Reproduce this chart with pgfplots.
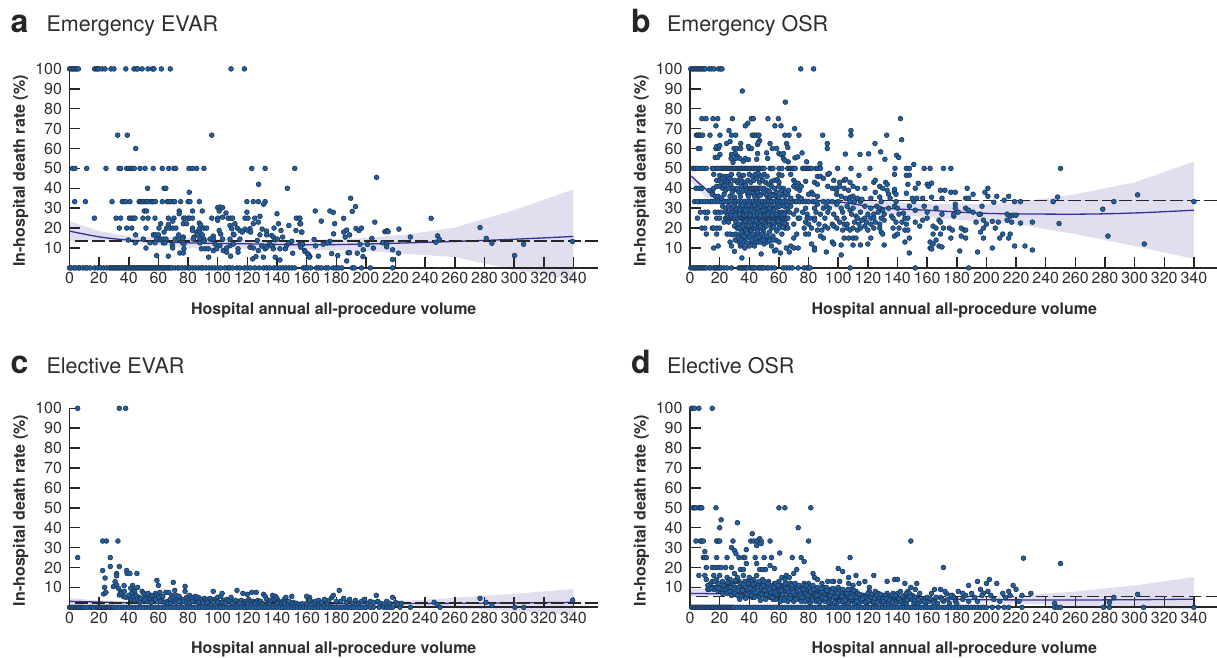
\documentclass[border=0pt]{standalone}
\usepackage{fontspec}
\setmainfont{TeX Gyre Heros}
\usepackage{pgfplots}
\pgfplotsset{compat=1.18}
\definecolor{dotf}{HTML}{1C62A8}
\definecolor{dotd}{HTML}{23324A}
\definecolor{bandc}{HTML}{E0DEEF}
\definecolor{linec}{HTML}{34319A}
\definecolor{axc}{HTML}{262626}
\definecolor{txt}{HTML}{2E2E2E}
\pgfplotsset{
 every axis title shift=0pt,
 base/.style={scale only axis,width=528.5pt,height=199pt,xmin=0,xmax=356.6,ymin=0,ymax=100,clip=false},
 tickbase/.style={base,
  axis x line*=bottom,axis y line*=left,axis line style={-,line width=1.7pt,color=axc},
  hide obscured x ticks=false,hide obscured y ticks=false,
  xtick={0,20,...,340},ytick={10,20,...,100},xtick align=inside,ytick align=inside,
  major tick length=10.5pt,tick style={line width=1.5pt,color=axc}},
 tickonly/.style={tickbase,xticklabels={},yticklabels={}},
 panel/.style={tickbase,
  /pgf/number format/assume math mode=true,/pgf/number format/1000 sep={},
  tick label style={font=\fontsize{16}{18}\selectfont,color=txt},
  xticklabel style={yshift=-1pt},
  yticklabel style={xshift=-4pt},
  xlabel={Hospital annual all-procedure volume},
  ylabel={In-hospital death rate (\%)},
  every axis x label/.style={at={(axis description cs:0.5,0)},anchor=base,yshift=-46.5pt,font=\fontsize{16}{18}\selectfont\bfseries,color=txt},
  every axis y label/.style={at={(axis description cs:0,0.5)},rotate=90,anchor=base,yshift=44.5pt,xshift=-2.6pt,font=\fontsize{16}{18}\selectfont\bfseries,color=txt},
  title style={at={(axis description cs:0,1)},anchor=base west,xshift=-26.5pt,yshift=37.2pt,font=\fontsize{21.5}{24}\selectfont,color=txt},
 },
 lower/.style={title style={yshift=-2pt}},
 band/.style={fill=bandc,draw=none,forget plot},
 fit/.style={color=linec,line width=1.3pt,no marks,smooth,forget plot},
 ref/.style={color=axc,line width=1.3pt,dash pattern=on 12.5pt off 4.5pt,no marks,forget plot},
 dots/.style={only marks,mark=*,mark size=2.4pt,mark options={fill=dotf,draw=dotd,line width=0.6pt},forget plot},
}
\newcommand{\plab}[2][0pt]{\node[anchor=base west,xshift=-62.5pt,yshift=36pt+#1,font=\fontsize{32}{34}\selectfont\bfseries,color=black!85] at (rel axis cs:0,1) {#2};}
\begin{document}
\begin{tikzpicture}
\useasboundingbox (0,0) rectangle (1217pt,657pt);
% ---------- a
\begin{axis}[base,hide axis,at={(69.5pt,389.1pt)}]
\addplot[band] coordinates {(0,23.4)(20,18.5)(40,15.8)(80,15.1)(120,14)(160,14)(200,15)(230,17)(260,20.3)(300,29)(340,39.5)(340,-6)(300,-1)(260,5.4)(200,8.4)(160,9.2)(120,9.6)(80,10)(40,12.9)(20,14)(0,13.4)};
\end{axis}
\begin{axis}[tickonly,at={(69.5pt,389.1pt)}]
\addplot[draw=none,forget plot] coordinates {(100,50)};
\end{axis}
\begin{axis}[panel,at={(69.5pt,389.1pt)},title={Emergency EVAR}]
\plab{a}
\addplot[fit] coordinates {(0,18.5)(20,15.6)(40,14)(80,12.6)(120,12.1)(160,11.6)(200,12)(260,13.3)(300,14.4)(340,15.8)};
\addplot[ref] coordinates {(4,13.5)(356.6,13.5)};
\addplot[dots] coordinates {
(0,100)(1,100)(2,100)(3,100)(4,100)(5,100)(6,100)(17,100)(18,100)(19,100)(20,100)(22,100)(24,100)(28,100)(30,100)(38,100)(43.5,100)(45,100)(46,100)(49,100)(53,100)(56,100)(57,100)(62,100)(68,100)(109,100)(118,100)
(32.5,66.7)(39,66.7)(96,66.7)(44.7,60)
(2,50)(3.7,50)(11.6,50)(24.6,50)(33.4,50)(34.5,50)(38.6,50)(40,50)(41.3,50)(42.5,50)(43.7,50)(47.6,50)(51,50)(56.5,50)(62.6,50)(67,50)(70.5,50)(71.6,50)(80.6,50)(83,50)(85.8,50)(90.7,50)(123,50)(132,50)(152,50)
(52.7,40)(63.8,40)(65,40)(147,40)(80.8,38)(127.6,42)
(3.5,33.3)(10.7,33.3)(28.7,33.3)(35.6,33.3)(36.8,33.3)(38,33.3)(40.8,33.3)(47,33.3)(48,33.3)(49,33.3)(50,33.3)(51,33.3)(52,33.3)(53,33.3)(55,33.3)(56,33.3)(57,33.3)(58,33.3)(62.6,33.3)(66,33.3)(67,33.3)(68,33.3)(70,33.3)(71,33.3)(75,33.3)(80,33.3)(81.3,33.3)(87.6,33.3)(119.7,33.3)(124,33.3)(127.4,33.3)(132,33.3)(131,32)
(16.8,25)(31.4,25)(34.5,25)(40.4,25)(41.7,25)(43,25)(44.2,25)(49.6,25)(53,25)(57.7,25)(66.7,25)(70.5,25)(77,25)(78,25)(80,25)(81,25)(83,25)(96,25)(100,25)(107,25)(108.7,25)(110,25)(118.4,25)(120.4,25)(125,25)(128.5,25.9)(153,25)(155,25)
(50.5,28.6)(52,28.6)(74,28.6)(74,27.2)(83,28.6)(89.6,28.6)(119.7,28)(140,27.2)(100,30.3)(101.5,30.6)(103.3,30.3)(101,28.6)(105.6,27.6)(100,23.9)(103.3,25.5)(111.6,22.2)(108.3,21.3)(113.2,20)(109.4,19.7)(101,18.8)
(61.5,22.2)(69.6,23.5)(66.7,21.8)(76.8,22.2)(79,22.2)(87.6,22.5)(88.5,21.5)(124,22.2)(127.4,23)(141,22.2)(148,21.3)(155.5,22.2)
(33.6,20)(38.6,20)(42,20)(51.6,20)(60.4,20)(65.6,20)(67.8,20)(69.6,20)(71.8,20)(83,20)(90.7,20)(92.5,20)(138,20)(121.8,19.7)(118.4,19.5)(130,19.5)
(63.8,18)(83,18.8)(85.8,18)(87.6,19.7)(88,18)(110.5,17)(115,18.8)(116.6,18)(120.4,18.8)(122.2,18)(142.7,18.8)(152.8,18.8)(156.6,18)(133,18.5)
(44.6,16.6)(56.6,16.6)(58,16.6)(60,16.6)(73.6,16.6)(76.8,15.5)(86.2,16.6)(89.6,16.6)(111,16.6)(128.5,16.6)(133,16.6)(136.4,16.3)(137.5,15.5)(143.8,15.5)(102,17)(97,16)(84,15.5)
(39.7,14)(49.8,14.5)(58.8,14.5)(61.5,14.5)(63.3,14.5)(65.1,14.5)(71.4,14.5)(73.6,14.5)(76.3,14.5)(83.5,14.5)(88,14.5)(90.7,14.5)(94.8,14.5)(97,14.5)(103.3,14.5)(108.3,14.5)(115,14.5)(126.7,13.8)(138.8,14.1)(140.2,14.5)(150,13.4)
(44.4,12.6)(54.3,12.6)(57.7,12.6)(63.3,12.6)(64.4,12.6)(69.4,11.6)(69.6,10)(76.3,12.6)(77.2,12)(88,12.6)(90.7,13.4)(98.2,12)(101.5,11.2)(108.3,11.2)(110.5,12)(106,10)(113.7,9.6)(113.7,7.9)(135,12)(137,11)
(51.6,10)(89,9.6)(91.4,9.6)(93.6,9.6)(97,8.7)(99.3,9.6)(103.7,8.7)(106,7.9)(108.7,5.9)(93.9,5.4)(74.5,7.5)(76.8,7.5)(77.2,9.6)(58.8,6.2)(66.7,5.9)(123.6,4.5)(125.8,5.7)(127.4,8.7)(130.8,5.4)(129.7,11)(132,9.6)(133,10.4)(121.8,10.4)(124,10)(136.4,11)(137.5,9.6)(138.8,5.4)(142,4)(142,9.6)(145.6,9.6)(146.5,11.3)(147.7,12.4)(150.6,7.4)(155.5,12)(157.3,11.8)(158.6,8.7)(161,7)(162.2,5.7)
(207.2,45.5)(189.7,35)(193,30.8)(190.8,28.4)(165.8,28.6)(175.7,28.6)(178,27.9)(169.9,23.5)(185,24.9)(178.9,22.2)(206,23)(244,24.9)(277,20.3)(156,22.2)(155.5,24.9)(156.8,18)(185,18)(187,19)(178.2,17.1)(186,15.5)(189,16.6)(193.3,19.8)(195.3,18.8)(197,20)(212.8,18.2)(214.2,18.7)(215,18.2)(222.3,19.5)(230,15.5)(248.4,16.1)(249.5,14.3)(247.2,12.9)(281.2,14.8)(285,12.4)(306.4,11.9)(339.4,13.3)(300.3,6.2)(165,14.3)(175.7,13.4)(174,12.6)(171.2,11.9)(166,11.1)(204,14.8)(201,11.8)(196,11.8)(205,10)(211.3,12.6)(214.2,12.3)(214,10.6)(157,12)(156,10.4)(159,8.2)(160.7,6.9)(161.8,5.4)(167.9,5.9)(176.9,7.2)(181,6.2)(187.9,7.6)(189,7.6)(194.2,7.4)(198.2,9.1)(198,5.7)(187,3.5)(218,9.1)(222,7.4)(218,4.2)
(0,0)(1,0)(3,0)(4,0)(6,0)(7,0)(9,0)(11,0)(12,0)(14,0)(17,0)(19,0)(21,0)(23,0)(25,0)(27,0)(28,0)(29,0)(30,0)(31,0)(32,0)(33,0)(34,0)(35,0)(36,0)(37,0)(38,0)(39,0)(40,0)(41,0)(42,0)(43,0)(44,0)(45,0)(46,0)(47,0)(48,0)(49,0)(50,0)(51,0)(52,0)(53,0)(54,0)(55,0)(56,0)(57,0)(58,0)(59,0)(60,0)(61,0)(62,0)(63,0)(64,0)(65,0)(66,0)(67,0)(68,0)(69,0)(71,0)(73,0)(74,0)(76,0)(78,0)(80,0)(81,0)(83,0)(85,0)(87,0)(89,0)(90,0)(92,0)(94,0)(96,0)(98,0)(100,0)(102,0)(105,0)(107,0)(108,0)(110,0)(113,0)(115,0)(118,0)(120,0)(122,0)(125,0)(128,0)(131,0)(133,0)(135,0)(138,0)(140,0)(142,0)(144,0)(146,0)(148,0)(150,0)(152,0)
(157.7,0)(159,0)(160.5,0)(162.7,0)(166.7,0)(168,0)(170,0)(173,0)(174.6,0)(178,0)(179.8,0)(181.4,0)(183.8,0)(190.8,0)(192.2,0)(197,0)(203,0)(218,0)
};
\end{axis}
% ---------- b
\begin{axis}[base,hide axis,at={(690pt,389.1pt)}]
\addplot[band] coordinates {(0,47.5)(10,41)(20,36)(40,35)(80,35.6)(120,34)(160,32)(200,32)(220,33)(260,37)(300,43)(340,53.4)(340,4.5)(300,11)(260,17)(220,22)(200,23)(160,25.5)(120,28)(80,32)(40,32)(20,32)(10,36)(0,44)};
\end{axis}
\begin{axis}[tickonly,at={(690pt,389.1pt)}]
\addplot[draw=none,forget plot] coordinates {(100,50)};
\end{axis}
\begin{axis}[panel,at={(690pt,389.1pt)},title={Emergency OSR}]
\plab{b}
\addplot[fit] coordinates {(1,46)(10,40)(20,34.8)(40,33.6)(60,33.8)(80,33.8)(100,33.2)(120,31)(140,29.6)(160,29)(200,27.4)(260,27)(300,27.6)(340,29)};
\addplot[ref] coordinates {(3,34)(356.6,34)};
\addplot[dots] coordinates {
(0.5,100)(1.5,100)(2.5,100)(3.5,100)(4.5,100)(5.5,100)(6.5,100)(7.5,100)(8.5,100)(9.5,100)(10.5,100)(13,100)(14.6,100)(16.2,100)(19.3,100)(20.7,100)(21.6,100)(74.7,100)(83.4,100)
(35.3,88.9)(64.3,83.3)(8,75)(10.8,75)(15.5,75)(18.7,75)(28.6,75)(41.4,75)(42.7,75)(52.6,75)(59.6,75)(142,75)
(17.5,71.4)(37.3,71.4)(39,72.7)(57.3,71.4)(61.4,71.4)(70.6,70)(26.3,69)(108.6,69)
(4.3,66.7)(5.3,66.7)(6.3,66.7)(7.2,66.7)(8.5,66.7)(13.5,66.7)(20.2,66.7)(28,66.7)(30.8,66.7)(42,66.7)(43.4,66.7)(45,66.7)(46.5,66.7)(64,66.7)(66.8,66.7)(73.5,66.7)(89.5,66.7)(108.6,66.7)(132.7,66.7)(142.8,64.4)
(24.7,62.5)(34.2,62.5)(45.7,62)(92.6,62.5)(124.8,62.5)(54,62.5)(65.2,62.5)(27,63.5)(47,64)(46,63)
(5.6,60)(6.7,60)(17.5,60)(19,60)(29.7,60)(31.5,60)(34.2,60)(40,60)(41.4,60)(55.5,60)(58.5,60)(92.6,60)(39.4,61)(18,61)(20,61.5)(66,60.5)
(20.2,57)(45.6,57.5)(51.7,57.8)(60,57.5)(61.4,57)(63,57.5)(104.8,57.2)(114.7,57)(120.5,57.3)(139.4,56.6)(28,57)(30.5,57.5)(32,56)
(17,55.5)(18.7,55.5)(27.7,55)(30.8,55)(33.7,55)(37.3,55)(45,54.6)(52.4,55)(70.8,55.3)(72.7,55.8)(75.6,57.8)(140.8,55.5)(131.5,54.6)(128.6,58.3)(78.7,53.3)(87.7,52.4)(36,53.6)(39.4,54.4)(66.3,53.3)(63,55)(64,54)(29,53)
(2,50)(3,50)(4,50)(5,50)(7,50)(9,50)(11,50)(15,50)(16,50)(18,50)(19,50)(21,50)(22,50)(23,50)(24,50)(25,50)(26,50)(27,50)(28,50)(29,50)(30,50)(31,50)(32,50)(33,50)(34,50)(35,50)(36,50)(37,50)(38,50)(39,50)(40,50)(41,50)(42,50)(43,50)(44,50)(45,50)(46,50)(47,50)(48,50)(49,50)(50,50)(54,50)(55,50)(56,50)(60,50)(62,50)(66,50)(67,50)(68,50)(69,50)(70,50)(71,50)(76,50)(77,50)(78,50)(79,50)(80,50)(81,50)(82,50)(85,50)(86,50)(88,50)(99.6,50)(108.6,50)(121.4,50)(138.3,50)(146,50)(148,50)(158,50)(162,50)(171,50)(176,50)(250,50)
(16,47)(20,46.5)(22,46)(24,46)(26,46)(28,47)(33,47)(36,46.5)(40,47)(42,46)(44,47)(46,47.5)(48,46)(50,47)(52,46)(60,47)(62,46.5)(68,47)(86,46)(88,46)(93,47)(94,47.5)(114,46.5)(138,47)(146,46.5)(148,46.6)(151,52)
(18,44)(20,44)(21,43)(22,45)(24,44)(25,43)(26,44)(27,45)(30,44)(32,43)(33,44)(34,45)(35,43.5)(37,43)(39,44)(41,43)(43,44)(45,45)(47,43)(49,44)(51,43)(53,42)(55,43.5)(57,44)(59,44.5)(60,43)(70,44)(71,43)(73,42.5)(78,43.5)(84,43)(90,45)(97,44)(101,43)(104,44)(108,43)(105,44.5)(124,43)(125,44)(132,43)(147,42)(154,42.5)(163,42.6)
(13,39)(15,38)(16,40)(18,41)(20,41)(22,40)(24,39)(26,40)(29,40)(31,39.5)(32,40)(33,38)(36,40)(38,39)(40,40)(41,40)(42,40)(43,40)(44,40)(45,40)(46,40)(47,40)(48,40)(50,40)(52,39)(55,41)(57,40)(60,41)(63,40)(70,41)(72,40)(74,39)(75,41)(82,38)(86,42)(93,41)(96,40)(98,40)(99,39)(101,41)(104,40)(107,39)(110,41)(113,40)(118,40)(125,38)(128,41)(130,40)(133,42)(133,39)(138,38)(138,39.5)(152,40)(160,42)(161,41)(169,39)(172,39)(176,38)(179,38)(187,40)(191,37)(199,38)(201,40)(4,40)(6,40)(8,40)
(6,33.3)(3,33.3)(5,33.3)(8,33.3)(10,33.3)(12,33.3)(14,33.3)(15,33.3)(17,33.3)(19,33.3)(21,33.3)(23,33.3)(25,33.3)(27,33.3)(29,33.3)(31,33.3)(33,33.3)(35,33.3)(37,33.3)(39,33.3)(41,33.3)(43,33.3)(45,33.3)(47,33.3)(49,33.3)(51,33.3)(53,33.3)(55,33.3)(57,33.3)(59,33.3)(61,33.3)(63,33.3)(65,33.3)(67,33.3)(69,33.3)(71,33.3)(72,33.3)(74,33.3)(76,33.3)(78,33.3)(80,33.3)(83,33.3)(85,33.3)(90,33.3)(93,33.3)(96,33.3)(100,33.3)(108,33.3)(111,33.3)(115,33.3)(129,33.3)(139,33.3)(151,33.3)
(15,37)(17,36)(19,36)(21,35)(23,37)(27,36)(30,35.5)(34,36)(39,37)(44,37)(46,36)(48,37)(52,36)(54,35.5)(56,37)(58,36)(60,35.5)(62,37)(64,36)(66,37)(68,35)(73,36)(75,35)(80,37)(83,37)(86,36)(99,37)(102,36)(105,35)(108,35.5)(110,36)(113,35)(116,34.5)(122,35)(128,35.6)(134,37)(135,35)(139,37)(146,37.5)(150,35)(153,35)(157,35)(163,35.5)(170,35)(179,32)(186,35)(188,35)(197,31)(201,36)(205,33)(207,36)(212,34)(215,36)(219,33.3)(223,33.3)(245,33.3)(248,35.6)(286,33.3)(302,36.7)(340,33.3)
(22,31)(24,30)(26,31)(28,30)(30,32)(32,30)(34,31)(36,30)(38,31)(40,30)(42,31)(44,30)(46,32)(48,30)(50,31)(52,29.5)(55,31)(57,30)(59,32)(66,30)(68,31)(72,29)(78,30)(84,30)(86,32)(90,30)(92,31)(94,30)(99,32)(102,30)(106,31)(108,29)(110,30)(118,31)(122,30)(126,31)(128,30)(130,29)(134,30)(138,31)(140,30)(148,31)(152,29)(158,31)(166,30)(179,30)(186,30)(178,26)(196,27)(7,28)(10,28)(12,28)(17,28)(19,28)(21,28)(24,28)(26,28)(29,28)(31,28)(35,28)(37,28)(41,28)(45,28)(47,28)(50,28)(54,28)(60,28)(62,28)(64,28)(67,28)(70,27)(76,28)(79,27)(85,28)(88,27)(93,28)(97,27)(103,28)(109,27)(112,26)(115,28)(120,27)(124,27)(127,28)(131,27)(136,26)(141,27)(144,27.5)(160,28)(170,27)(178,27)(181,28)(188,29)(191,28)(195,27)(214,27)(216,26)(218,26.5)(220,26.5)(278.5,29.5)
(5,25)(11,25)(18,25)(20,25)(24,25)(25,25)(26,25)(27,25)(28,25)(29,25)(30,25)(32,25)(34,25)(35,25)(36,25)(37,25)(38,25)(39,25)(40,25)(41,25)(42,25)(43,25)(44,25)(45,25)(46,25)(47,25)(48,25)(49,25)(50,25)(51,25)(52,25)(53,25)(54,25)(55,25)(56,25)(57,25)(58,25)(59,25)(60,25)(61,25)(62,25)(63,25)(64,25)(65,25)(66,25)(73,25)(74,25)(79,25)(81,25)(84,25)(91,25)(99,25)(104,25)(113,25)(118,25)(122,25)(124,25)(129,25)(137,25)(145,25)(147,25)(160,25)
(23,23)(26,23)(31,23)(33,22)(36,23)(39,22)(42,23)(44,22)(47,23)(49,22)(52,23)(55,22)(58,23)(60,22)(62,23)(65,22)(70,22)(78,23)(80,22)(84,24)(87,22)(96,22)(101,23)(104,22)(106,22)(111,23)(114,22)(116,24)(119,23)(122,22)(125,23)(128,22)(131,24)(139,23)(143,23)(146,22)(152,23)(157,24)(168,24)(169,23)(193,23)(198,24)(214,24)(217,23)(223,22.5)(249,22.3)(204,23.4)(200,22)(208,23)
(8,20)(10,20)(15,20)(16,20)(18,20)(20,20)(30,21)(32,20)(33,20)(36,20)(38,20)(40,20)(41,20)(42,20)(43,20)(44,20)(46,20)(48,20)(50,20)(55,20)(60,20)(64,20)(66,20)(77,20)(82,20)(86,19)(89,19)(91,21)(93,20)(97,21)(99,20)(103,19)(106,20)(108,19)(110,20)(113,19)(115,20)(118,21)(120,19)(124,20)(128,20)(129,18)(137,20)(141,20)(145,19)(147,19)(155,21)(164,21)(166,20)(171,20)(175,20)(177,19)(183,20)(185,19)(186,19)(196,18)(198,20)(206,20)(211,17)(216,17)(231,23)
(11,17)(18,17)(25,17)(27,17)(29,16.7)(31,17)(33,16)(35,15)(37,17)(38,15)(40,18)(44,16)(46,17)(48,15)(50,14)(52,15)(54,15)(56,16)(58,14)(60,13)(62,17)(70,15)(72,17)(78,17)(80,17)(88,16)(90,15)(104,15)(107,15)(110,15)(112,15)(122,15)(130,17)(138,16)(140,17)(148,15)(164,17)(166,14)(169,17)(176,15)(183,16)(186,15)(198,15)(209,15)(215,15)(282,16)
(16,10)(19,11)(27,13)(28,11)(30,8.3)(33,13)(34,11)(35,12)(37,10)(40,11)(42,13)(44,13)(46,13)(48,7)(50,12)(52,13)(55,11)(57,8.5)(58,9)(61,7.5)(65,10)(67,8)(68,11)(70,10)(73,10)(82,12)(84,10)(84,9)(92,8)(96,13)(97,12)(102,6.5)(102,11.5)(110,11.5)(115,11.5)(120,12)(131,11.5)(145,13)(148,7.5)(162,13)(162,10)(163,9.5)(168,11)(170,10.5)(182,8.5)(194,8)(204,10)(219,11)(226,11)(231,9)(306.5,12)(35,5)(164,12)
(23.5,41.5)(27.5,42)(28.5,38)(34.5,41)(35.5,38.5)(37.5,41.5)(39.5,36)(40.5,38)(42.5,37.5)(43.5,36)(45.5,38)(47.5,36.5)(49.5,38)(51.5,37)(53.5,38.5)(55.5,36.5)(58.5,38)(61.5,39)(64.5,38)(66.5,39)(29.5,31)(31.5,29.5)(33.5,29)(35.5,31.5)(37.5,29)(39.5,31.5)(41.5,29)(43.5,31.5)(45.5,30)(47.5,31)(49.5,29)(51.5,31.5)(53.5,30)(56.5,29)(58.5,30.5)(60.5,31)(63.5,31)(65.5,31.5)(25.5,26.5)(27.5,26.5)(30.5,26.5)(33.5,27)(36.5,26.5)(38.5,27)(40.5,26.5)(43.5,26.5)(45.5,27)(47.5,26.5)(50.5,26.5)(52.5,27)(55.5,26.5)(58.5,27)(61.5,26.5)(63.5,27)(37.5,23.5)(40.5,23)(42.5,24)(44.5,23.5)(46.5,22)(48.5,23.5)(50.5,22)(53.5,23.5)(56.5,22)(59.5,23.5)(63.5,22.5)(35.5,21)(37.5,19)(39.5,21)(41.5,18.5)(43.5,21.5)(45.5,18.5)(47.5,21)(49.5,18)(51.5,21)(53.5,18)(56.5,20.5)(58.5,18.5)(62.5,20.5)(34.5,18)(36.5,16)(38.5,17.5)(40.5,15.5)(42.5,17)(44.5,15)(46.5,15.5)(48.5,17)(51.5,16)(53.5,13.5)(56,14)(30.5,14)(32.5,15)(34.5,14)(36.5,13)(38.5,12.5)(41.5,14)(43.5,11)(47.5,13)(49.5,14)
(0.5,0)(2,0)(3,0)(4,0)(5,0)(6,0)(7,0)(8,0)(9,0)(10,0)(11,0)(13,0)(14,0)(16,0)(17,0)(18,0)(19,0)(20,0)(21,0)(23,0)(25,0)(28,0)(33,0)(34,0)(35,0)(36,0)(37,0)(38,0)(39,0)(41,0)(42,0)(43,0)(44,0)(46,0)(47,0)(48,0)(49,0)(50,0)(52,0)(53,0)(55,0)(57,0)(63,0)(65,0)(67,0)(69,0)(73,0)(77,0)(79,0)(80,0)(81,0)(108,0)(152,0)(188,0)
};
\end{axis}
% ---------- c
\begin{axis}[base,hide axis,at={(69.5pt,49.7pt)}]
\addplot[band] coordinates {(0,4.6)(20,3.4)(40,2.8)(80,2.4)(120,2.3)(160,2.4)(200,2.7)(230,3.4)(260,4.8)(300,6.8)(340,9.2)(340,-4)(300,-1.8)(260,-0.6)(200,1)(160,1.2)(120,1.2)(80,1.2)(40,1.4)(20,1.6)(0,1.7)};
\end{axis}
\begin{axis}[tickonly,at={(69.5pt,49.7pt)}]
\addplot[draw=none,forget plot] coordinates {(100,50)};
\end{axis}
\begin{axis}[panel,lower,at={(69.5pt,49.7pt)},title={Elective EVAR}]
\plab[-1.5pt]{c}
\addplot[fit] coordinates {(0,3)(40,2.3)(80,1.9)(120,1.7)(160,1.7)(200,1.8)(260,2)(300,2.2)(340,2.5)};
\addplot[ref] coordinates {(4,2.2)(356.6,2.2)};
\addplot[dots] coordinates {
(5.5,100)(33.6,100)(37.9,100)(22.4,33.3)(24.9,33.3)(32.7,33.3)(5.5,25)(27.5,25)(27.5,20.5)(33.6,20.5)(22.4,18.5)(24,14.7)(23.7,10)(23,6.7)(24.6,7.5)(31.8,17)(31.8,15.8)(30.7,12.9)(29.6,10.4)(31.8,11.3)(33,9.6)(34.5,7.9)(33.6,6.2)(36.8,10.9)(38.6,18.5)(38.8,17)(40.8,17)(45.5,17)(42.6,11)(41.3,9.6)(43.5,8.7)(35,7)(36.3,5.4)(39.7,5.4)(40.8,4.5)(38,5)(42,4)(43,5.5)(44,3.5)(45,6)(46,4)(47,5)(48,3)(49,8)(50,7)(51,6)(52,5)(53,7)(54,4)(55,6)(56,5.5)(57,4)(58,7)(59,6)(59,13.5)(60,11)(60,5)(61,7.5)(62,3.5)(63,5.5)(64,2.5)(65,7.5)(66,3)(67,7.5)(68,4)(69,6)(70,12.5)(70,5)(71,8.5)(71,3)(72,6)(73,4)(74,5.5)(75,2.5)(76,4)(77,3)(78,10.5)(78,8)(79,5)(80,3.5)(81,6)(82,4)(83,5)(84,3)(85,5.5)(86,4)(87,5)(88,2.5)(89,4)(90,3)(91,4.5)(92,3.5)(93,4)(94,2.5)(95,4.5)(96,3)(97,8)(98,4)(99,3)(100,5)(101,2.5)(102,5.5)(103,7)(104,3.5)(105,2.5)(106,4)(107,3)(108,3.5)(109,5)(110,3)(111,2.5)(112,3.5)(113,8.5)(114,3)(115,2.5)(116,3.5)(117,7)(118,2.5)(119,3)(120,6.5)(121,4)(122,3)(123,7.5)(124,3)(125,2.5)(126,7.5)(127,3.5)(128,2.5)(129,3)(130,2)(131,6.5)(132,5.5)(133,4)(134,2.5)(135,3)(136,3.5)(137,6)(138,4)(139,5.5)(140,4.5)(141,3)(142,2.5)(143,2)(144,3)(145,4)(146,5)(148,3)(150,5.5)(151,2.5)(153,2)(155,1.5)(157,1.8)(160,2)(161,4.5)(162,5)(163,3)(165,2)(167,2.5)(168,1.5)
(160,5.5)(162,3.5)(166,3)(168,3.5)(170,2.5)(172,4)(174,2)(175,3.5)(177,5)(178,6)(180,3)(182,8.5)(183,3)(185,4.5)(187,2.5)(189,4)(191,2)(193,3.5)(195,2)(197,3)(199,4)(201,2)(203,3)(205,2.5)(207,6)(208,3)(210,2)(212,1.5)(214,3)(216,2)(218,5)(220,2.5)(222,1.8)(224,2)(246,2.5)(248,1.5)(277,4.5)(281,2.5)(285,1)(339.5,3.5)(44,8)(46,10)(48,4.5)(52,3)(56,3)(42,7)(40,6)(37,8)(47.5,2.5)(51,4)(55,2.5)(58,4)(61,3)(66,2)(68,2)(72,2.5)(74,3)(79,2.5)(81,2)(83,3)(87,2.5)(90,2)(93,2.5)(97,2.5)(100,2.5)(103,2.5)(105,2)(110,2)(115,2)(120,2)(125,2)(130,1.5)(135,1.5)(140,2)(145,2)(150,1.5)
(0,0)(1,0)(2,0)(3,0)(4,0)(5,0)(6,0)(7,0)(8,0)(9,0)(10,0)(12,0)(14,0)(15,0)(16,0)(18,0)(19,0)(20,0)(21,0)(22,0)(23,0)(24,0)(25,0)(26,0)(27,0)(28,0)(29,0)(30,0)(32,0)(34,0)(36,0)(38,0)(40,0)(42,0)(44,0)(46,0)(48,0)(50,0)(52,0)(54,0)(56,0)(58,0)(60,0)(62,0)(64,0)(66,0)(68,0)(70,0)(72,0)(74,0)(76,0)(78,0)(80,0)(82,0)(84,0)(86,0)(88,0)(90,0)(92,0)(94,0)(96,0)(98,0)(100,0)(102,0)(104,0)(106,0)(108,0)(110,0)(112,0)(114,0)(116,0)(118,0)(120,0)(122,0)(124,0)(126,0)(128,0)(130,0)(132,0)(134,0)(136,0)(138,0)(140,0)(142,0)(144,0)(146,0)(148,0)(150,0)(152,0)(154,0)(156,0)(158,0)(160,0)(162,0)(164,0)(166,0)(168,0)(170,0)(172,0)(174,0)(176,0)(178,0)(180,0)(182,0)(184,0)(186,0)(188,0)(190,0)(192,0)(194,0)(196,0)(198,0)(200,0)(203,0)(205,0)(209,0)(212,0)(214,0)(216,0)(218,0)(223,0)(230,0)(250,0)(300.5,0)(306.5,0)
};
\end{axis}
% ---------- d
\begin{axis}[base,hide axis,at={(690pt,49.7pt)}]
\addplot[band] coordinates {(0,9.5)(40,7.4)(80,6.4)(120,5.8)(160,5.4)(200,5.5)(230,6.3)(260,7.9)(300,11)(340,15.2)(340,-1)(300,0)(260,0.8)(200,2.5)(160,3.8)(120,4.2)(80,4.8)(40,5.6)(0,5.4)};
\end{axis}
\begin{axis}[tickonly,at={(690pt,49.7pt)}]
\addplot[draw=none,forget plot] coordinates {(100,50)};
\end{axis}
\begin{axis}[panel,lower,at={(690pt,49.7pt)},title={Elective OSR}]
\plab[-1.5pt]{d}
\addplot[fit] coordinates {(0,7)(40,6.5)(80,5.6)(120,5)(160,4.4)(200,3.8)(260,3.7)(300,3.8)(340,4.1)};
\addplot[ref] coordinates {(4,5.6)(356.6,5.6)};
\addplot[dots] coordinates {
(1,100)(2,100)(3,100)(6,100)(15,100)(2,50)(3,50)(4,50)(6,50)(7,50)(8,50)(17.5,50)(60,50)(64,50)(81.5,50)(21,44)(20,40)(32,42.5)(42,37)(73,40)(4,33.3)(7,33.3)(8,33.3)(9,33.3)(18,33.3)(19,33.3)(20,33.3)(29,33.3)(41,33.3)(43,33.3)(45,33.3)(47,34.5)(48,33.3)(48,32)(54,33.3)(80,33.3)(149,33.3)(45,31)(38,29)(28,30)(30,28.5)(31,27)(60.5,27.3)(10,28)(9,25)(10,25)(11,25)(18,25)(25,25)(33,25)(36,25)(37,25)(44,25)(50,25)(55,25)(69,25)(75,25)(108,25)(171,20)(6,16)(10,16)(11,20)(15,20)(17,20)(19,20)(21,20)(24,20)(28,20)(34,19)(36,19)(38,22)(45,22)(47,19)(49,19)(51,19)(54,21)(57,19.5)(77,23)(70,17)(72,19)(62,15)(65,16)(67,15)(80,12)(83,17)(84,15)(86,14)(100,19.5)(103,18)(107,15)(112,16)(118,13)(121,10)(124,16)(133,13)(138,14)(140,14)(145,12)(153,12)
(11,14)(12,9)(13,11)(14,12)(15,13)(16,16)(17,10)(18,14)(19,12)(20,16)(21,10)(22,13)(23,11)(24,9)(25,15)(26,10)(27,14)(28,12)(29,8)(30,17)(31,10)(32,15)(33,13)(34,8)(35,11)(36,16)(37,7)(38,13)(39,9)(40,15)(41,11)(42,8)(43,14)(44,10)(45,16)(46,7)(47,12)(48,9)(49,14)(50,6)(51,11)(52,8)(53,13)(54,5)(55,10)(56,7)(57,12)(58,4)(59,9)(60,13)(61,6)(62,11)(63,8)(64,14)(65,5)(66,10)(67,7)(68,12)(69,4)(70,9)(71,6)(72,11)(73,7)(74,4)(75,10)(76,6)(77,12)(78,5)(79,8)(80,3)(81,9)(82,6)(83,11)(84,4)(85,8)(86,5)(87,9)(88,7)(89,12)(90,4)(91,8)(92,6)(93,13)(94,4)(95,9)(96,7)(97,13)(98,3)(99,9)(100,6)(101,13)(102,4)(103,9)(104,2)(105,7)(106,5)(107,12)(108,3)(109,7)(110,11)(111,4)(112,8)(113,2)(114,12)(115,5)(116,3)(117,6)(118,4)(119,2)(120,5)(121,8)(122,3)(123,6)(124,2)(125,8)(126,4)(127,7)(128,3)(129,5)(130,2)(131,6)(132,3)(133,7)(134,2)(135,5)(136,3)(137,7)(138,4)(139,2)(140,7)(141,3)(142,8)(143,2)(144,4)(145,6)(146,2)(147,8)(148,4)(149,10)(150,6)(151,2)(152,9)(153,5)(154,2)(155,7)(157,4)(159,2)(161,3)(163,7)(165,3)(167,2)(169,5)(171,3)(173,7)(175,2)(177,6)(179,3)(181,8)
(12,11)(13,9)(15,10)(16,9)(18,10)(19,8)(21,9)(22,7)(24,11)(25,7)(26,12)(27,8)(28,6)(29,11)(30,7)(31,13)(32,6)(33,10)(34,12)(35,6)(36,9)(37,13)(38,5)(39,11)(40,7)(41,13)(42,5)(43,9)(44,12)(45,6)(46,11)(47,5)(48,10)(49,7)(50,13)(51,4)(52,10)(53,6)(54,11)(55,8)(56,4)(57,9)(58,12)(59,6)(60,8)(61,3)(62,9)(63,5)(64,11)(65,8)(66,3)(67,12)(68,6)(69,9)(70,3)(71,12)(72,8)(73,5)(74,10)(75,3)(76,8)(77,11)(78,7)(79,4)(80,10)(81,2)(82,5)(83,7)(84,9)(85,3)(86,10)(87,6)(88,3)(89,8)(90,10)(91,3)(92,10)(93,5)(94,8)(95,2)(96,13)(97,5)(98,9)(99,2)(100,10)(101,3)(102,7)(103,3)(104,5)(105,4)(106,7)(107,2)(108,9)(109,4)(110,6)(111,2)(112,5)(113,7)(114,2)(115,4)(116,6)(118,5)(120,7)(122,5)(124,3)(126,6)(128,5)(130,4)(132,6)(134,5)(136,6)(138,5)(140,5)(142,3)(144,5)(146,7)(148,7)(150,4)(152,5)(156,3)(160,5)(166,5)(170,4)(174,4)(178,5)(180,2)(184,4)(186,6)(188,3)(190,7)(192,5)(194,3)(196,9)(198,7)(200,12)(201,8)(202,14)(203,6)(205,4)(207,12)(209,3)(211,7)(213,5)(215,8)(216,6)(218,11)(220,9)(222,3)(225,24.7)(230,7)(250,22)(224,6)(246,2)(283,2.5)(286,5)(302,6.5)(165,9)(188,11)(194,13)(197,6)(184,7)(169,9)(172,8)(176,6)
(14.5,9.5)(16.5,13)(19.5,9.5)(22.5,11)(25.5,12.5)(27.5,10)(30.5,13.5)(32.5,8.5)(34.5,5.5)(36.5,11.5)(38.5,6.5)(40.5,9.5)(42.5,11.5)(44.5,7.5)(46.5,13)(48.5,6.5)(50.5,8.5)(52.5,12)(54.5,7.5)(56.5,10)(58.5,6.5)(60.5,10.5)(62.5,6.5)(64.5,12)(66.5,8)(68.5,11)(70.5,6.5)(72.5,9.5)(74.5,6.5)(76.5,9)(78.5,11)(80.5,6.5)(82.5,3.5)(84.5,6.5)(86.5,3.5)(88.5,9.5)(90.5,6)(92.5,8.5)(94.5,6)(96.5,9.5)(98.5,5.5)(100.5,8)(102.5,5.5)(104.5,3.5)(106.5,9)(108.5,5)(110.5,8.5)(112.5,3)(114.5,6.5)(116.5,4.5)(118.5,2.5)(120.5,3.5)(122.5,6.5)(124.5,4.5)(126.5,2.5)(128.5,6.5)(130.5,3)(132.5,4.5)(134.5,3.5)(136.5,2.5)(138.5,6)(141,4.5)(143.5,5.5)(146.5,3.5)(148.5,5.5)(151.5,3.5)(154,4)(158,3)(162,4.5)(164,2.5)
(33.5,4)(35.5,8.5)(37.5,4.5)(39.5,12)(41.5,6)(43.5,5)(45.5,10)(47.5,3.5)(49.5,11)(51.5,6.5)(53.5,9)(55.5,5)(57.5,7.5)(59.5,11)(61.5,8.5)(63.5,3.5)(65.5,9.5)(67.5,4.5)(69.5,7.5)(71.5,4)(73.5,11)(75.5,5)(77.5,3)(79.5,6)(81.5,8)(83.5,9)(85.5,6)(87.5,2.5)(89.5,5)(91.5,4.5)(93.5,2.5)(95.5,7.5)(97.5,2.5)(99.5,7)
(1,0)(2,0)(3,0)(4,0)(5,0)(6,0)(7,0)(8,0)(9,0)(10,0)(11,0)(12,0)(13,0)(14,0)(15,0)(16,0)(17,0)(18,0)(19,0)(20,0)(21,0)(22,0)(23,0)(24,0)(25,0)(26,0)(27,0)(28,0)(29,0)(30,0)(32,0)(34,0)(36,0)(38,0)(40,0)(42,0)(44,0)(46,0)(48,0)(50,0)(52,0)(54,0)(56,0)(58,0)(60,0)(62,0)(64,0)(66,0)(68,0)(70,0)(72,0)(74,0)(76,0)(78,0)(80,0)(82,0)(84,0)(86,0)(88,0)(90,0)(92,0)(94,0)(96,0)(98,0)(100,0)(102,0)(104,0)(106,0)(108,0)(110,0)(112,0)(114,0)(116,0)(118,0)(120,0)(122,0)(124,0)(126,0)(128,0)(130,0)(132,0)(134,0)(136,0)(138,0)(140,0)(142,0)(144,0)(146,0)(148,0)(150,0)(152,0)(154,0)(156,0)(158,0)(160,0)(162,0)(164,0)(166,0)(168,0)(170,0)(172,0)(174,0)(176,0)(178,0)(180,0)(182,0)(184,0)(186,0)(188,0)(190,0)(192,0)(194,0)(196,0)(198,0)(200,0)(204,0)(208,0)(212,0)(215,0)(224,0)(246,0)(248,0)(250,0)(279,0)(283,0)(306,0)(340,0)
};
\end{axis}
\end{tikzpicture}
\end{document}
